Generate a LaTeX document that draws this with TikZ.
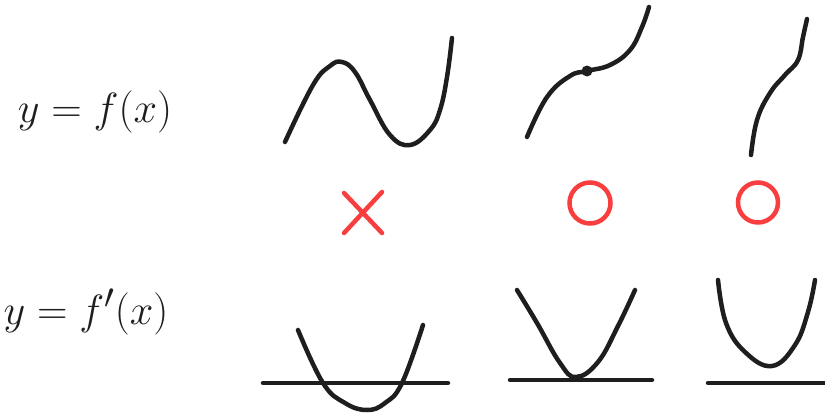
\documentclass[tikz,border=0pt]{standalone}
\usetikzlibrary{positioning}
\definecolor{redink}{RGB}{248,62,62}
\definecolor{ink}{RGB}{30,30,30}
\begin{document}
\begin{tikzpicture}[x=1pt, y=-1pt,
  pen/.style={draw=ink, line width=4.5pt, line cap=round, line join=round},
  redpen/.style={draw=redink, line width=4.5pt, line cap=round},
  eqn/.style={font=\Huge, inner sep=0pt, text=ink}]
\useasboundingbox (0,0) rectangle (825,415);
\node[eqn] (fx) at (95,112) {\scalebox{1.7}{$y = f(x)$}};
\node[eqn] (dfx) at (86,312) {\scalebox{1.7}{$y = f'(x)$}};
% f
\draw[pen] plot[smooth, tension=0.7] coordinates {(285,142) (313,85) (330,66) (342,62) (355,72) (370,100) (390,135) (410,145) (430,130) (440,110) (447,77) (452,38)};
\draw[pen] plot[smooth, tension=0.7] coordinates {(527,137) (547,97) (570,76) (587,71) (610,65) (630,50) (642,27) (649,7)};
\fill[ink] (587,71) circle (5.5);
\draw[pen] plot[smooth, tension=0.7] coordinates {(751,155) (757,120) (770,93) (785,75) (798,60) (803,37) (807,19)};
% marks
\draw[redpen] (344,193) -- (382,233) (344,233) -- (382,192);
\draw[redpen] (590,203) circle (20.5);
\draw[redpen] (758,202.5) circle (20);
% f'
\draw[pen] (263,383) -- (448,383);
\draw[pen] plot[smooth, tension=0.7] coordinates {(298,330) (323,383) (345,403) (367,410) (385,403) (402,383) (423,325)};
\draw[pen] (510,380) -- (652,380);
\draw[pen] plot[smooth, tension=0.7] coordinates {(517,290) (537,323) (560,363) (576,377) (598,362) (618,326) (635,290)};
\draw[pen] (708,383) -- (825,383);
\draw[pen] plot[smooth, tension=0.7] coordinates {(718,280) (726,323) (745,352) (772,366) (795,345) (808,312) (815,280)};
\end{tikzpicture}
\end{document}
